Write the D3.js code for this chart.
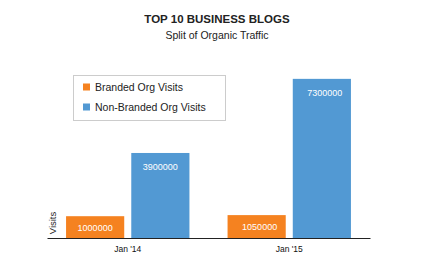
<!DOCTYPE html>
<html><head><meta charset="utf-8">
<script src="https://cdn.jsdelivr.net/npm/d3@7"></script>
<style>body{margin:0;background:#fff}svg{display:block;font-family:"Liberation Sans",Arial,sans-serif}</style>
</head><body><svg id="c" width="428" height="264"></svg>
<script>
const categories = ["Jan '14", "Jan '15"];
const seriesNames = ["Branded Org Visits", "Non-Branded Org Visits"];
const branded = [1000000, 1050000];
const nonBranded = [3900000, 7300000];
const colors = ["#f58220", "#5299d3"];

const svg = d3.select("#c");
const x0 = d3.scaleBand().domain(categories).range([47, 370]).paddingInner(0.236).paddingOuter(0.118);
const x1 = d3.scaleBand().domain(seriesNames).range([0, x0.bandwidth()]).paddingInner(0.108);
const y = d3.scaleLinear().domain([0, 8000000]).range([238, 63.6]);

svg.append("text").attr("x", 217).attr("y", 23).attr("text-anchor", "middle")
  .attr("font-weight", "bold").attr("font-size", 11.5).attr("fill", "#222").text("TOP 10 BUSINESS BLOGS");
svg.append("text").attr("x", 217).attr("y", 39).attr("text-anchor", "middle")
  .attr("font-size", 10.5).attr("fill", "#222").text("Split of Organic Traffic");

const data = categories.map((c, i) => ({cat: c, vals: [branded[i], nonBranded[i]]}));
const g = svg.append("g").selectAll("g").data(data).join("g")
  .attr("transform", d => `translate(${x0(d.cat)},0)`);
g.selectAll("rect").data(d => d.vals.map((v, j) => ({v, j}))).join("rect")
  .attr("x", d => x1(seriesNames[d.j])).attr("width", x1.bandwidth())
  .attr("y", d => y(d.v)).attr("height", d => y(0) - y(d.v))
  .attr("fill", d => colors[d.j]);
g.selectAll("text").data(d => d.vals.map((v, j) => ({v, j}))).join("text")
  .attr("x", (d, j, n) => x1(seriesNames[d.j]) + x1.bandwidth() / 2 + (d3.select(n[j].parentNode).datum().cat === categories[1] ? 3 : 0))
  .attr("y", d => d.j === 0 ? (y(d.v) + y(0)) / 2 + 3.5 : y(d.v) + 17)
  .attr("text-anchor", "middle").attr("font-size", 9).attr("fill", "#fff")
  .text(d => d.v);

const ax = svg.append("g").attr("transform", "translate(0,238)")
  .call(d3.axisBottom(x0).tickSize(0).tickPadding(8));
ax.select(".domain").attr("stroke", "#222");
ax.selectAll("text").attr("font-size", 8.5).attr("fill", "#111")
  .attr("font-family", "'Liberation Sans',Arial,sans-serif");

svg.append("text").attr("transform", "translate(56,223) rotate(-90)").attr("text-anchor", "middle")
  .attr("font-size", 9.5).attr("fill", "#222").text("Visits");

const lg = svg.append("g");
lg.append("rect").attr("x", 73.5).attr("y", 75.5).attr("width", 152).attr("height", 45)
  .attr("fill", "#fff").attr("stroke", "#ccc");
seriesNames.forEach((s, i) => {
  lg.append("rect").attr("x", 83).attr("y", 83.5 + i * 20).attr("width", 7).attr("height", 7).attr("fill", colors[i]);
  lg.append("text").attr("x", 95).attr("y", 91 + i * 20).attr("font-size", 10.5).attr("fill", "#222").text(s);
});
</script></body></html>
